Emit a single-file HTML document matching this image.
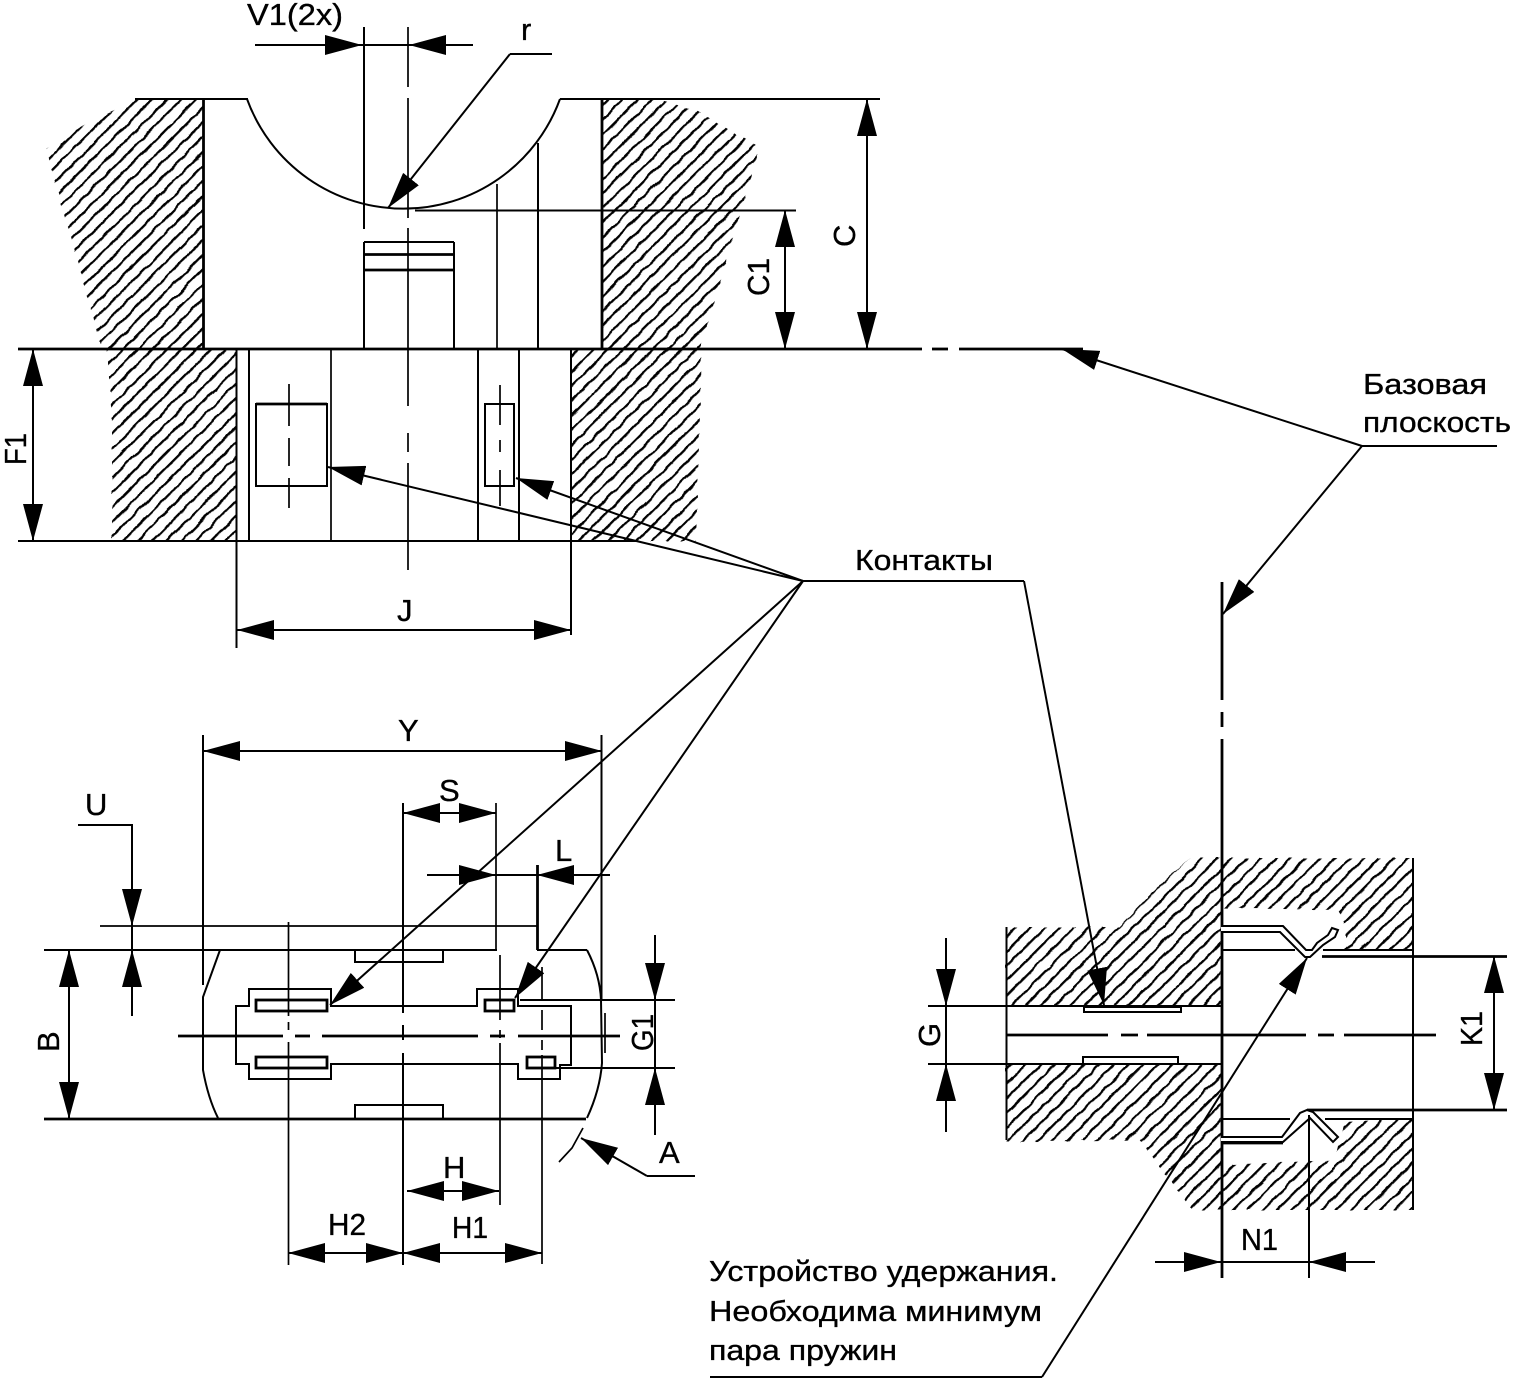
<!DOCTYPE html>
<html><head><meta charset="utf-8"><style>
html,body{margin:0;padding:0;background:#fff}
svg{display:block}
text{font-family:"Liberation Sans",sans-serif;font-size:31px;fill:#000;stroke:#000;stroke-width:.35}
.t{font-size:29px}
line,polyline,path.l,rect{stroke:#000;fill:none;stroke-width:2}
.th{stroke-width:2.8}
.m{stroke-width:1.7}
</style></head><body>
<svg xmlns="http://www.w3.org/2000/svg" width="1513" height="1380" viewBox="0 0 1513 1380">
<defs>
<marker id="a" markerUnits="userSpaceOnUse" markerWidth="37" markerHeight="20" refX="37" refY="10" orient="auto-start-reverse"><path d="M0 0L37 10L0 20z" fill="#000"/></marker>
<pattern id="h" patternUnits="userSpaceOnUse" width="10.4" height="10.4" patternTransform="rotate(45)"><rect x="0" y="0" width="2.3" height="10.4" style="fill:#000;stroke:none"/></pattern>
<filter id="w" x="0" y="0" width="1513" height="1380" filterUnits="userSpaceOnUse"><feTurbulence type="fractalNoise" baseFrequency="0.09" numOctaves="1" seed="4"/><feDisplacementMap in="SourceGraphic" scale="4" xChannelSelector="R" yChannelSelector="G"/></filter>
</defs>
<!-- hatch -->
<g fill="url(#h)" filter="url(#w)">
<polygon points="136,99 203,99 203,349 102,349 46,148 82,126 114,110"/>
<polygon points="602,99 660,99 700,112 737,135 760,147 700,349 602,349"/>
<polygon points="107,349 236,349 236,541 112,541 112,421"/>
<polygon points="571,349 702,349 696,541 571,541"/>
<polygon points="1006,927 1119,927 1162,883 1190,858 1221,858 1221,1006 1006,1006"/>
<polygon points="1006,1064 1221,1064 1221,1210 1192,1210 1140,1140 1006,1142"/>
<polygon points="1221,858 1413,858 1413,950 1345,950 1345,925 1338,910 1221,908"/>
<polygon points="1221,1165 1335,1160 1345,1122 1413,1118 1413,1210 1221,1210"/>
</g>
<!-- top diagram -->
<line x1="135" y1="99" x2="248" y2="99"/>
<line x1="560" y1="99" x2="880" y2="99"/>
<path class="l" d="M247 99A166.5 166.5 0 0 0 560 99"/>
<line class="th" x1="203.5" y1="99" x2="203.5" y2="349"/>
<line class="th" x1="602" y1="99" x2="602" y2="349"/>
<line class="th" x1="18" y1="349" x2="922" y2="349"/>
<line class="th" x1="932" y1="349" x2="948" y2="349"/>
<line class="th" x1="959" y1="349" x2="1083" y2="349"/>
<line x1="18" y1="541" x2="636" y2="541"/>
<line x1="236.5" y1="349" x2="236.5" y2="648"/>
<line x1="249" y1="349" x2="249" y2="541"/>
<line class="m" x1="331" y1="349" x2="331" y2="541"/>
<line x1="478" y1="349" x2="478" y2="541"/>
<line x1="519" y1="349" x2="519" y2="541"/>
<line x1="571" y1="349" x2="571" y2="635"/>
<line x1="364" y1="27" x2="364" y2="229"/>
<line class="m" x1="408" y1="27" x2="408" y2="87"/>
<line class="m" x1="408" y1="98" x2="408" y2="218"/>
<line class="m" x1="408" y1="228" x2="408" y2="406"/>
<line class="m" x1="408" y1="433" x2="408" y2="452"/>
<line class="m" x1="408" y1="463" x2="408" y2="570"/>
<line x1="364" y1="242" x2="454" y2="242"/>
<line x1="364" y1="242" x2="364" y2="349"/>
<line x1="454" y1="242" x2="454" y2="349"/>
<line class="th" x1="364" y1="254.5" x2="454" y2="254.5"/>
<line class="th" x1="364" y1="270" x2="454" y2="270"/>
<line class="m" x1="497" y1="184" x2="497" y2="349"/>
<line x1="538" y1="143" x2="538" y2="349"/>
<line x1="415" y1="210.5" x2="796" y2="210.5"/>
<rect x="256" y="404" width="71" height="82"/>
<line class="th" x1="256" y1="404" x2="327" y2="404"/>
<rect x="485" y="404" width="29" height="82"/>
<line class="m" x1="289" y1="384" x2="289" y2="426"/>
<line class="m" x1="289" y1="438" x2="289" y2="466"/>
<line class="m" x1="289" y1="478" x2="289" y2="508"/>
<line class="m" x1="500" y1="385" x2="500" y2="425"/>
<line class="m" x1="500" y1="440" x2="500" y2="452"/>
<line class="m" x1="500" y1="470" x2="500" y2="506"/>
<!-- top dims -->
<line x1="255" y1="45" x2="362" y2="45" marker-end="url(#a)"/>
<line x1="473" y1="45" x2="409" y2="45" marker-end="url(#a)"/>
<line x1="362" y1="45" x2="409" y2="45"/>
<line x1="552" y1="54" x2="510" y2="54"/>
<line x1="510" y1="54" x2="388" y2="208" marker-end="url(#a)"/>
<line x1="867" y1="99" x2="867" y2="349" marker-start="url(#a)" marker-end="url(#a)"/>
<line x1="785" y1="210" x2="785" y2="349" marker-start="url(#a)" marker-end="url(#a)"/>
<line x1="33" y1="349" x2="33" y2="541" marker-start="url(#a)" marker-end="url(#a)"/>
<line x1="237" y1="630" x2="571" y2="630" marker-start="url(#a)" marker-end="url(#a)"/>
<!-- leaders -->
<line x1="1362" y1="446" x2="1497" y2="446"/>
<line x1="1362" y1="446" x2="1062" y2="349" marker-end="url(#a)"/>
<line x1="1362" y1="446" x2="1223" y2="614" marker-end="url(#a)"/>
<line x1="803" y1="581" x2="1024" y2="581"/>
<line x1="803" y1="581" x2="328" y2="467" marker-end="url(#a)"/>
<line x1="803" y1="581" x2="516" y2="478" marker-end="url(#a)"/>
<line x1="803" y1="581" x2="330" y2="1005" marker-end="url(#a)"/>
<line x1="803" y1="581" x2="515" y2="998" marker-end="url(#a)"/>
<line x1="1024" y1="581" x2="1104" y2="1005" marker-end="url(#a)"/>
<!-- bottom-left -->
<line x1="203" y1="735" x2="203" y2="985"/>
<line x1="601.5" y1="735" x2="601.5" y2="1000"/>
<line x1="203" y1="751" x2="602" y2="751" marker-start="url(#a)" marker-end="url(#a)"/>
<line x1="403" y1="803" x2="403" y2="1013"/>
<line x1="403" y1="1025" x2="403" y2="1040"/>
<line x1="403" y1="1053" x2="403" y2="1265"/>
<line class="m" x1="496" y1="803" x2="496" y2="950"/>
<line x1="403" y1="813" x2="496" y2="813" marker-start="url(#a)" marker-end="url(#a)"/>
<line x1="427" y1="875" x2="496" y2="875" marker-end="url(#a)"/>
<line x1="610" y1="875" x2="537" y2="875" marker-end="url(#a)"/>
<line x1="496" y1="875" x2="537" y2="875"/>
<line class="th" x1="537.5" y1="865" x2="537.5" y2="950"/>
<line x1="537" y1="950" x2="587" y2="950"/>
<line class="m" x1="100" y1="926" x2="537" y2="926"/>
<line x1="44" y1="950" x2="497" y2="950"/>
<polyline points="78,825 132,825 132,926"/>
<line x1="132" y1="840" x2="132" y2="926" marker-end="url(#a)"/>
<line x1="132" y1="1016" x2="132" y2="950" marker-end="url(#a)"/>
<line x1="132" y1="926" x2="132" y2="950"/>
<line x1="69" y1="950" x2="69" y2="1119" marker-start="url(#a)" marker-end="url(#a)"/>
<line class="th" x1="44" y1="1119" x2="586" y2="1119"/>
<path class="l" d="M220 950L203 997L203 1070Q208 1098 218 1118"/>
<path class="l" d="M587 950Q600 975 601 1000L602 1063Q600 1090 587 1118"/>
<line class="m" x1="605" y1="1013" x2="605" y2="1053"/>
<polyline class="m" points="583,1128 572,1148 559,1162"/>
<line x1="695" y1="1176" x2="647" y2="1176"/>
<line x1="647" y1="1176" x2="581" y2="1138" marker-end="url(#a)"/>
<polyline points="355,950 355,962 443,962 443,950"/>
<polyline points="355,1119 355,1105 443,1105 443,1119"/>
<line x1="178" y1="1036" x2="283" y2="1036" class="th"/>
<line class="th" x1="295" y1="1036" x2="310" y2="1036"/>
<line class="th" x1="322" y1="1036" x2="478" y2="1036"/>
<line class="th" x1="490" y1="1036" x2="505" y2="1036"/>
<line class="th" x1="518" y1="1036" x2="620" y2="1036"/>
<path class="l" d="M236 1006H249V989H331V1006H477V989H518V1006H571V1065H560V1079H518V1064H331V1079H249V1064H236Z"/>
<rect class="th" x="256" y="1000" width="71" height="11"/>
<rect class="th" x="256" y="1057" width="71" height="11"/>
<rect class="th" x="485" y="1000" width="29" height="11"/>
<rect class="th" x="527" y="1057" width="28" height="11"/>
<line class="m" x1="288.5" y1="922" x2="288.5" y2="1016"/>
<line class="m" x1="288.5" y1="1022" x2="288.5" y2="1030"/>
<line class="m" x1="288.5" y1="1042" x2="288.5" y2="1265"/>
<line class="m" x1="500" y1="955" x2="500" y2="1020"/>
<line class="m" x1="500" y1="1030" x2="500" y2="1038"/>
<line class="m" x1="500" y1="1043" x2="500" y2="1205"/>
<line class="m" x1="542" y1="967" x2="542" y2="1000"/>
<line class="m" x1="542" y1="1010" x2="542" y2="1030"/>
<line class="m" x1="542" y1="1040" x2="542" y2="1050"/>
<line class="m" x1="542" y1="1055" x2="542" y2="1264"/>
<line x1="520" y1="1000" x2="675" y2="1000"/>
<line x1="556" y1="1068" x2="675" y2="1068"/>
<line x1="655" y1="935" x2="655" y2="1000" marker-end="url(#a)"/>
<line x1="655" y1="1135" x2="655" y2="1068" marker-end="url(#a)"/>
<line x1="655" y1="1000" x2="655" y2="1068"/>
<line x1="407" y1="1191" x2="499" y2="1191" marker-start="url(#a)" marker-end="url(#a)"/>
<line x1="403" y1="1253" x2="542" y2="1253" marker-start="url(#a)" marker-end="url(#a)"/>
<line x1="288" y1="1253" x2="403" y2="1253" marker-start="url(#a)" marker-end="url(#a)"/>
<!-- right -->
<line class="th" x1="1222" y1="582" x2="1222" y2="700"/>
<line class="th" x1="1222" y1="712" x2="1222" y2="727"/>
<line class="th" x1="1222" y1="739" x2="1222" y2="1278"/>
<line x1="928" y1="1006" x2="1221" y2="1006"/>
<line x1="928" y1="1064" x2="1221" y2="1064"/>
<line x1="946" y1="938" x2="946" y2="1006" marker-end="url(#a)"/>
<line x1="946" y1="1132" x2="946" y2="1064" marker-end="url(#a)"/>
<line x1="946" y1="1006" x2="946" y2="1064"/>
<line x1="1006.5" y1="927" x2="1006.5" y2="1140"/>
<line class="th" x1="1006" y1="1035" x2="1108" y2="1035"/>
<line class="th" x1="1121" y1="1035" x2="1138" y2="1035"/>
<line class="th" x1="1147" y1="1035" x2="1306" y2="1035"/>
<line class="th" x1="1318" y1="1035" x2="1334" y2="1035"/>
<line class="th" x1="1344" y1="1035" x2="1436" y2="1035"/>
<rect x="1084" y="1007" width="97" height="5"/>
<rect x="1083" y="1057" width="95" height="7"/>
<line x1="1413" y1="858" x2="1413" y2="1210"/>
<line x1="1221" y1="950" x2="1295" y2="950"/>
<line x1="1323" y1="950" x2="1413" y2="950"/>
<line class="th" x1="1322" y1="956.5" x2="1507" y2="956.5"/>
<line class="th" x1="1307" y1="1110" x2="1507" y2="1110"/>
<line x1="1221" y1="1119" x2="1290" y2="1119"/>
<line x1="1325" y1="1119" x2="1413" y2="1119"/>
<path class="l" d="M1221 926H1283L1306 950L1312 950L1317 943L1328 935L1332 928L1338 930L1335 937L1323 945L1310 957L1305 957L1280 932H1221" style="fill:#fff"/>
<path class="l" d="M1221 1137H1282L1300 1113L1307 1110L1313 1112L1338 1137L1333 1142L1310 1118L1283 1142H1221" style="fill:#fff"/>
<line class="th" x1="1221" y1="1143" x2="1283" y2="1143"/>
<line x1="1309" y1="1115" x2="1309" y2="1278"/>
<line x1="1155" y1="1262" x2="1221" y2="1262" marker-end="url(#a)"/>
<line x1="1375" y1="1262" x2="1309" y2="1262" marker-end="url(#a)"/>
<line x1="1221" y1="1262" x2="1309" y2="1262"/>
<line x1="1494" y1="956" x2="1494" y2="1110" marker-start="url(#a)" marker-end="url(#a)"/>
<line x1="710" y1="1377" x2="1042" y2="1377"/>
<line x1="1042" y1="1377" x2="1307" y2="958" marker-end="url(#a)"/>
<!-- text -->
<text x="247" y="25" textLength="96" lengthAdjust="spacingAndGlyphs">V1(2x)</text>
<text x="521" y="40">r</text>
<text x="397" y="621">J</text>
<text x="398" y="741">Y</text>
<text x="439" y="801">S</text>
<text x="555" y="861">L</text>
<text x="85" y="815">U</text>
<text x="443" y="1178">H</text>
<text x="328" y="1235" textLength="38" lengthAdjust="spacingAndGlyphs">H2</text>
<text x="452" y="1238" textLength="36" lengthAdjust="spacingAndGlyphs">H1</text>
<text x="659" y="1163">A</text>
<text x="1241" y="1250" textLength="37" lengthAdjust="spacingAndGlyphs">N1</text>
<text transform="translate(855,247) rotate(-90)">C</text>
<text transform="translate(769,296) rotate(-90)" textLength="38" lengthAdjust="spacingAndGlyphs">C1</text>
<text transform="translate(26,465) rotate(-90)" textLength="32" lengthAdjust="spacingAndGlyphs">F1</text>
<text transform="translate(59,1052) rotate(-90)">B</text>
<text transform="translate(653,1051) rotate(-90)" textLength="37" lengthAdjust="spacingAndGlyphs">G1</text>
<text transform="translate(940,1047) rotate(-90)">G</text>
<text transform="translate(1482,1046) rotate(-90)" textLength="35" lengthAdjust="spacingAndGlyphs">K1</text>
<text class="t" x="1363" y="394" textLength="124" lengthAdjust="spacingAndGlyphs">Базовая</text>
<text class="t" x="1363" y="432" textLength="148" lengthAdjust="spacingAndGlyphs">плоскость</text>
<text class="t" x="855" y="570" textLength="138" lengthAdjust="spacingAndGlyphs">Контакты</text>
<text class="t" x="709" y="1281" textLength="349" lengthAdjust="spacingAndGlyphs">Устройство удержания.</text>
<text class="t" x="709" y="1321" textLength="333" lengthAdjust="spacingAndGlyphs">Необходима минимум</text>
<text class="t" x="709" y="1360" textLength="188" lengthAdjust="spacingAndGlyphs">пара пружин</text>
</svg>
</body></html>
